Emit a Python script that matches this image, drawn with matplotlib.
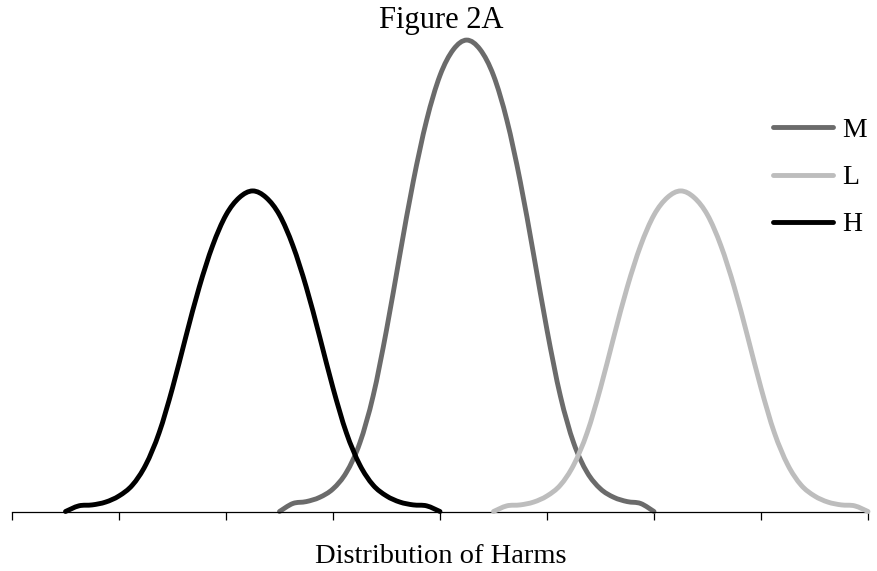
import matplotlib
matplotlib.use("Agg")
import matplotlib.pyplot as plt
from matplotlib.path import Path
from matplotlib.patches import PathPatch
from matplotlib.lines import Line2D

plt.rcParams['font.family'] = ['Liberation Serif', 'DejaVu Serif']

# values (x in tick units, y relative to the M peak)
x_M = [2.5, 2.625, 2.75, 2.875, 3.0, 3.125, 3.25, 3.375, 3.5, 3.625, 3.75, 3.875, 4.0, 4.125,
       4.25, 4.375, 4.5, 4.625, 4.75, 4.875, 5.0, 5.125, 5.25, 5.375, 5.5, 5.625, 5.75, 5.875, 6.0]
y_M = [0.0, 0.017, 0.021, 0.030, 0.048, 0.083, 0.145, 0.245, 0.385, 0.545, 0.70, 0.83, 0.925, 0.98,
       1.0, 0.98, 0.925, 0.83, 0.70, 0.545, 0.385, 0.245, 0.145, 0.083, 0.048, 0.030, 0.021, 0.017, 0.0]

x_L = [4.5, 4.625, 4.75, 4.875, 5.0, 5.125, 5.25, 5.375, 5.5, 5.625, 5.75, 5.875, 6.0, 6.125,
       6.25, 6.375, 6.5, 6.625, 6.75, 6.875, 7.0, 7.125, 7.25, 7.375, 7.5, 7.625, 7.75, 7.875, 8.0]
y_L = [0.0, 0.012, 0.014, 0.020, 0.033, 0.056, 0.099, 0.167, 0.262, 0.371, 0.476, 0.564, 0.629, 0.666,
       0.68, 0.666, 0.629, 0.564, 0.476, 0.371, 0.262, 0.167, 0.099, 0.056, 0.033, 0.020, 0.014, 0.012, 0.0]

x_H = [0.5, 0.625, 0.75, 0.875, 1.0, 1.125, 1.25, 1.375, 1.5, 1.625, 1.75, 1.875, 2.0, 2.125,
       2.25, 2.375, 2.5, 2.625, 2.75, 2.875, 3.0, 3.125, 3.25, 3.375, 3.5, 3.625, 3.75, 3.875, 4.0]
y_H = [0.0, 0.012, 0.014, 0.020, 0.033, 0.056, 0.099, 0.167, 0.262, 0.371, 0.476, 0.564, 0.629, 0.666,
       0.68, 0.666, 0.629, 0.564, 0.476, 0.371, 0.262, 0.167, 0.099, 0.056, 0.033, 0.020, 0.014, 0.012, 0.0]

labels = ["M", "L", "H"]
colors = ["#6b6b6b", "#bdbdbd", "#000000"]
ticks = [0, 1, 2, 3, 4, 5, 6, 7, 8]


def smooth_path(xs, ys):
    # smoothed line like a spreadsheet chart: catmull-rom segments as cubic beziers
    pts = list(zip(xs, ys))
    n = len(pts)
    verts = [pts[0]]
    codes = [Path.MOVETO]
    for i in range(n - 1):
        p0 = pts[i - 1] if i > 0 else pts[i]
        p1 = pts[i]
        p2 = pts[i + 1]
        p3 = pts[i + 2] if i + 2 < n else pts[i + 1]
        c1 = (p1[0] + (p2[0] - p0[0]) / 6, p1[1] + (p2[1] - p0[1]) / 6)
        c2 = (p2[0] - (p3[0] - p1[0]) / 6, p2[1] - (p3[1] - p1[1]) / 6)
        verts += [c1, c2, p2]
        codes += [Path.CURVE4] * 3
    return Path(verts, codes)


fig = plt.figure(figsize=(8.78, 5.71), dpi=100)
ax = fig.add_axes([12 / 878, 0.1042, 856 / 878, 0.8669])

handles = []
for i, (xs, ys) in enumerate([(x_M, y_M), (x_L, y_L), (x_H, y_H)]):
    patch = PathPatch(smooth_path(xs, ys), fill=False, edgecolor=colors[i],
                      lw=3.5, capstyle='round', joinstyle='round',
                      zorder=2 + i, clip_on=False)
    ax.add_patch(patch)
    handles.append(Line2D([], [], color=colors[i], lw=3.5,
                          solid_capstyle='round', label=labels[i]))

ax.set_xlim(0, 8)
ax.set_ylim(0, 1.05)
ax.set_xticks(ticks)
ax.set_xticklabels([])
ax.set_yticks([])
for side in ['top', 'right', 'left']:
    ax.spines[side].set_visible(False)
ax.spines['bottom'].set_linewidth(0.9)
ax.tick_params(axis='x', direction='out', length=5.5, width=0.9, color='black')

fig.text(0.503, 0.951, "Figure 2A", ha='center', va='baseline', fontsize=22)
fig.text(0.5017, 0.0145, "Distribution of Harms", ha='center', va='baseline', fontsize=20.5)

fig.legend(handles=handles, loc='center left', bbox_to_anchor=(773 / 878, 0.689),
           frameon=False, fontsize=20, handlelength=2.15, handletextpad=0.35,
           labelspacing=0.78, borderpad=0, borderaxespad=0)

fig.savefig("out.png", dpi=100)
